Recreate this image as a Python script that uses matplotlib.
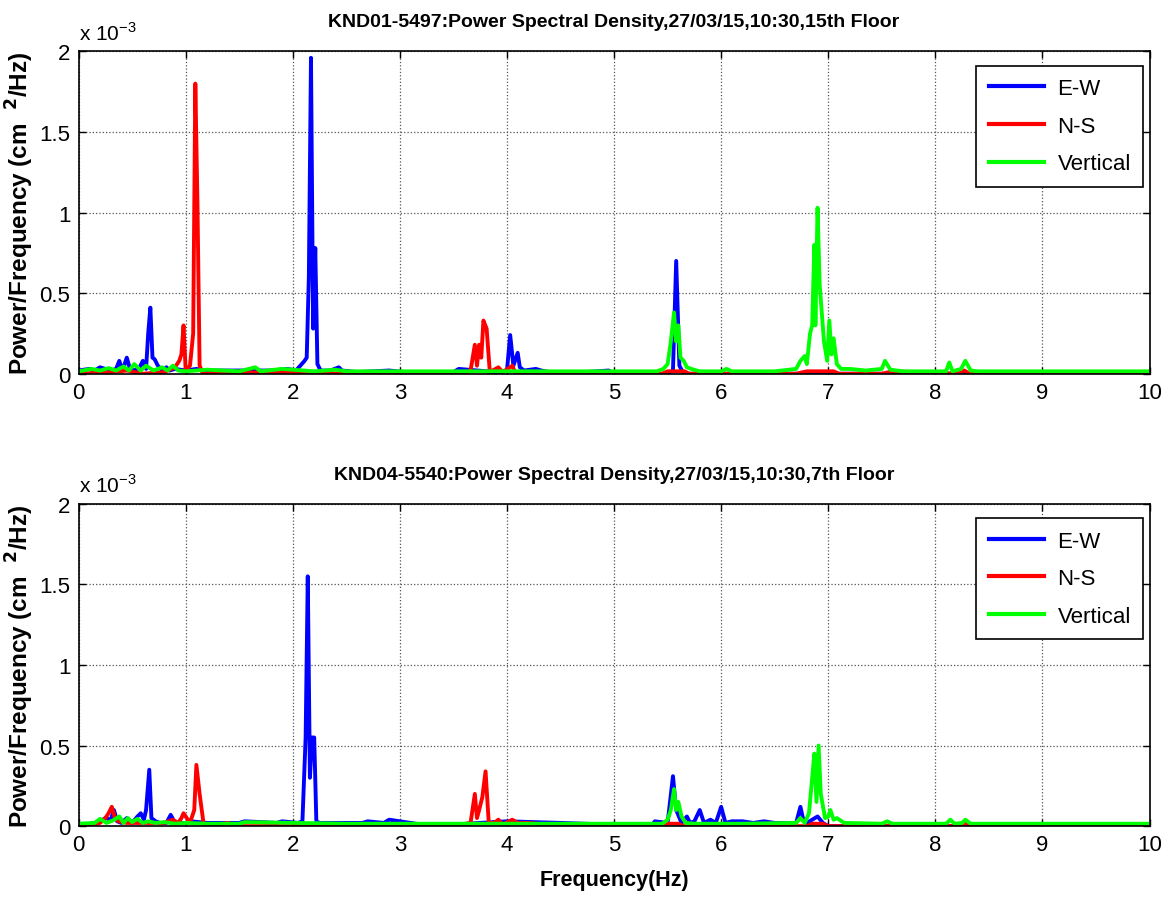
import matplotlib
matplotlib.use("Agg")
import matplotlib.pyplot as plt
from matplotlib.ticker import FuncFormatter

plt.rcParams['font.family'] = ['Liberation Sans', 'DejaVu Sans']

# ---------------- data (values in units of 1e-3 cm^2/Hz) ----------------
titles = ["KND01-5497:Power Spectral Density,27/03/15,10:30,15th Floor",
          "KND04-5540:Power Spectral Density,27/03/15,10:30,7th Floor"]
series_names = ["E-W", "N-S", "Vertical"]
series_colors = ["#0000ff", "#ff0000", "#00ff00"]

# Top panel (15th floor)
top_ew_f = [0.0, 0.1, 0.15, 0.2, 0.25, 0.3, 0.35, 0.38, 0.41, 0.45, 0.48, 0.52, 0.57, 0.6, 0.63, 0.65,
            0.67, 0.69, 0.71, 0.74, 0.78, 0.82, 0.85, 0.9, 1.0, 1.1, 1.2, 1.4, 1.6, 1.8, 1.95, 2.03,
            2.07, 2.11, 2.13, 2.15, 2.17, 2.19, 2.21, 2.23, 2.26, 2.35, 2.43, 2.46, 2.6, 2.9, 3.2, 3.5,
            3.55, 3.9, 4.0, 4.03, 4.06, 4.1, 4.12, 4.16, 4.27, 4.32, 4.4, 4.5, 4.95, 5.0, 5.5, 5.55,
            5.58, 5.61, 5.65, 6.0, 7.0, 8.0, 9.0, 10.0]
top_ew_v = [0.02, 0.03, 0.02, 0.04, 0.03, 0.02, 0.03, 0.08, 0.02, 0.1, 0.03, 0.02, 0.04, 0.08, 0.03, 0.25,
            0.41, 0.1, 0.09, 0.05, 0.02, 0.04, 0.02, 0.03, 0.02, 0.03, 0.02, 0.02, 0.02, 0.02, 0.03, 0.02,
            0.05, 0.08, 0.1, 0.6, 1.96, 0.28, 0.78, 0.06, 0.02, 0.02, 0.04, 0.02, 0.01, 0.02, 0.0, 0.01,
            0.03, 0.01, 0.02, 0.24, 0.05, 0.13, 0.04, 0.02, 0.03, 0.02, 0.01, 0.0, 0.02, 0.0, 0.0, 0.02,
            0.7, 0.05, 0.0, 0.0, 0.0, 0.0, 0.0, 0.0]

top_ns_f = [0.0, 0.3, 0.45, 0.6, 0.8, 0.9, 0.94, 0.96, 0.98, 1.0, 1.04, 1.07, 1.09, 1.11, 1.13, 1.16,
            1.4, 2.5, 3.6, 3.66, 3.7, 3.72, 3.74, 3.76, 3.78, 3.81, 3.84, 3.92, 3.96, 4.05, 4.08, 5.45,
            5.5, 5.6, 5.66, 5.7, 6.7, 6.8, 7.05, 7.1, 7.5, 7.6, 8.2, 8.27, 8.32, 10.0]
top_ns_v = [0.0, 0.01, 0.02, 0.0, 0.01, 0.04, 0.08, 0.12, 0.3, 0.02, 0.05, 0.25, 1.8, 1.05, 0.05, 0.0,
            0.01, 0.0, 0.0, 0.02, 0.18, 0.05, 0.18, 0.1, 0.33, 0.28, 0.01, 0.04, 0.01, 0.05, 0.0, 0.0,
            0.015, 0.015, 0.015, 0.0, 0.0, 0.015, 0.015, 0.0, 0.0, 0.015, 0.0, 0.02, 0.0, 0.0]

top_v_f = [0.0, 0.12, 0.2, 0.28, 0.35, 0.42, 0.47, 0.52, 0.58, 0.63, 0.7, 0.78, 0.83, 0.88, 0.93, 1.0,
           1.2, 1.5, 1.65, 1.7, 1.9, 2.2, 2.4, 2.5, 3.0, 4.0, 5.0, 5.4, 5.46, 5.5, 5.53, 5.56, 5.58,
           5.6, 5.62, 5.65, 5.68, 5.72, 5.8, 6.0, 6.05, 6.1, 6.5, 6.7, 6.74, 6.78, 6.8, 6.83, 6.85,
           6.87, 6.88, 6.9, 6.92, 6.96, 6.99, 7.01, 7.03, 7.05, 7.08, 7.12, 7.2, 7.35, 7.5, 7.53, 7.58,
           7.7, 8.1, 8.13, 8.16, 8.24, 8.28, 8.33, 8.4, 8.9, 10.0]
top_v_v = [0.015, 0.03, 0.02, 0.035, 0.02, 0.045, 0.02, 0.06, 0.02, 0.05, 0.02, 0.04, 0.02, 0.05, 0.02, 0.015,
           0.025, 0.015, 0.04, 0.015, 0.03, 0.015, 0.025, 0.015, 0.015, 0.015, 0.015, 0.015, 0.03, 0.06, 0.2, 0.38, 0.2,
           0.3, 0.1, 0.08, 0.04, 0.03, 0.015, 0.015, 0.03, 0.015, 0.015, 0.03, 0.08, 0.11, 0.06, 0.25, 0.3,
           0.8, 0.3, 1.03, 0.55, 0.2, 0.08, 0.33, 0.12, 0.22, 0.06, 0.03, 0.03, 0.02, 0.03, 0.08, 0.025,
           0.015, 0.015, 0.07, 0.015, 0.03, 0.08, 0.02, 0.015, 0.015, 0.015]

# Bottom panel (7th floor)
bot_ew_f = [0.0, 0.15, 0.2, 0.25, 0.3, 0.33, 0.36, 0.4, 0.45, 0.5, 0.55, 0.58, 0.61, 0.63, 0.66, 0.68,
            0.72, 0.76, 0.82, 0.86, 0.9, 1.0, 1.05, 1.2, 1.5, 1.55, 1.85, 1.9, 2.05, 2.09, 2.12, 2.14,
            2.16, 2.18, 2.2, 2.22, 2.25, 2.4, 2.65, 2.7, 2.85, 2.9, 3.3, 3.5, 4.0, 4.5, 4.95, 5.35,
            5.38, 5.5, 5.55, 5.58, 5.63, 5.68, 5.71, 5.75, 5.8, 5.84, 5.9, 5.95, 6.0, 6.04, 6.1, 6.2,
            6.3, 6.4, 6.5, 6.7, 6.74, 6.77, 6.8, 6.9, 6.95, 7.0, 8.0, 10.0]
bot_ew_v = [0.0, 0.02, 0.03, 0.05, 0.04, 0.1, 0.03, 0.02, 0.05, 0.02, 0.06, 0.08, 0.04, 0.1, 0.35, 0.05,
            0.03, 0.02, 0.02, 0.07, 0.02, 0.02, 0.03, 0.02, 0.02, 0.03, 0.02, 0.03, 0.02, 0.03, 0.55, 1.55,
            0.3, 0.55, 0.55, 0.03, 0.02, 0.02, 0.02, 0.03, 0.02, 0.04, 0.0, 0.01, 0.03, 0.02, 0.01, 0.0,
            0.03, 0.02, 0.31, 0.1, 0.02, 0.06, 0.02, 0.03, 0.1, 0.02, 0.04, 0.02, 0.12, 0.02, 0.03, 0.03,
            0.02, 0.03, 0.02, 0.02, 0.12, 0.03, 0.02, 0.06, 0.02, 0.0, 0.0, 0.0]

bot_ns_f = [0.0, 0.2, 0.25, 0.28, 0.31, 0.34, 0.37, 0.45, 0.5, 0.6, 0.7, 0.8, 0.88, 0.93, 0.96, 0.98,
            1.04, 1.08, 1.1, 1.13, 1.15, 1.17, 1.4, 1.45, 2.5, 3.5, 3.66, 3.7, 3.72, 3.74, 3.77, 3.8,
            3.83, 3.88, 3.92, 3.96, 4.05, 4.1, 4.2, 4.35, 4.5, 5.45, 5.5, 5.6, 5.65, 6.8, 6.85, 6.95,
            7.0, 8.25, 8.28, 8.32, 10.0]
bot_ns_v = [0.0, 0.02, 0.05, 0.08, 0.12, 0.05, 0.03, 0.02, 0.02, 0.02, 0.02, 0.02, 0.04, 0.02, 0.05, 0.08,
            0.02, 0.1, 0.38, 0.2, 0.1, 0.0, 0.02, 0.0, 0.0, 0.0, 0.02, 0.2, 0.05, 0.1, 0.18, 0.34,
            0.02, 0.02, 0.04, 0.01, 0.04, 0.02, 0.02, 0.01, 0.01, 0.0, 0.015, 0.015, 0.0, 0.0, 0.015, 0.015,
            0.0, 0.0, 0.015, 0.0, 0.0]

bot_v_f = [0.0, 0.15, 0.2, 0.26, 0.32, 0.38, 0.42, 0.46, 0.5, 0.55, 0.6, 0.65, 0.72, 0.8, 0.9, 1.0,
           1.2, 1.5, 1.55, 2.5, 5.0, 5.45, 5.5, 5.53, 5.56, 5.58, 5.6, 5.63, 5.67, 5.75, 6.2, 6.7,
           6.74, 6.78, 6.82, 6.85, 6.87, 6.89, 6.91, 6.93, 6.97, 7.0, 7.02, 7.05, 7.08, 7.15, 7.5,
           7.55, 7.6, 8.1, 8.14, 8.18, 8.25, 8.28, 8.33, 8.4, 10.0]
bot_v_v = [0.015, 0.02, 0.045, 0.02, 0.035, 0.06, 0.02, 0.05, 0.025, 0.045, 0.02, 0.03, 0.02, 0.025, 0.015, 0.02,
           0.015, 0.015, 0.025, 0.015, 0.015, 0.015, 0.04, 0.1, 0.23, 0.1, 0.15, 0.06, 0.02, 0.015, 0.015, 0.02,
           0.05, 0.02, 0.08, 0.3, 0.45, 0.15, 0.5, 0.2, 0.05, 0.06, 0.1, 0.04, 0.05, 0.02, 0.015,
           0.03, 0.015, 0.015, 0.04, 0.015, 0.02, 0.04, 0.015, 0.015, 0.015]

panels = [
    [(top_ew_f, top_ew_v), (top_ns_f, top_ns_v), (top_v_f, top_v_v)],
    [(bot_ew_f, bot_ew_v), (bot_ns_f, bot_ns_v), (bot_v_f, bot_v_v)],
]

xticks = list(range(0, 11))
yticks = [0, 0.5, 1, 1.5, 2]

# ---------------- figure ----------------
fig = plt.figure(figsize=(11.73, 9.03), dpi=100)
axes_rects = [[0.067, 0.585, 0.913, 0.357], [0.067, 0.084, 0.913, 0.357]]

for i, (rect, data) in enumerate(zip(axes_rects, panels)):
    ax = fig.add_axes(rect)
    for (f, v), name, col in zip(data, series_names, series_colors):
        ax.plot(f, v, color=col, lw=2.8, label=name)
    ax.set_xlim(0, 10)
    ax.set_ylim(0, 2)
    ax.set_xticks(xticks)
    ax.set_yticks(yticks)
    ax.yaxis.set_major_formatter(FuncFormatter(lambda y, p: "%g" % y))
    ax.tick_params(direction='in', top=True, right=True, length=5, width=1, labelsize=16, pad=6)
    ax.grid(True, linestyle=':', color='#555555', linewidth=0.9)
    for sp in ax.spines.values():
        sp.set_linewidth(1.2)
    ax.set_title(titles[i], fontsize=14, fontweight='bold', pad=18)
    ax.text(0.0, 1.025, r'x 10$^{\mathdefault{-3}}$', transform=ax.transAxes, fontsize=15,
            ha='left', va='bottom')
    ax.set_ylabel('Power/Frequency (cm  $\\mathbf{^2}$/Hz)', fontsize=17.5, fontweight='bold', labelpad=2)
    leg = ax.legend(loc='upper right', bbox_to_anchor=(0.994, 0.955), borderaxespad=0,
                    fontsize=16, frameon=True, fancybox=False, framealpha=1,
                    edgecolor='black', handlelength=2.5, handletextpad=0.6, labelspacing=0.75,
                    borderpad=0.55)
    leg.get_frame().set_linewidth(1.2)
    for lh in leg.get_lines():
        lh.set_linewidth(3.0)
    if i == 1:
        ax.set_xlabel('Frequency(Hz)', fontsize=15.5, fontweight='bold', labelpad=10)

fig.savefig('out.png', dpi=100)
